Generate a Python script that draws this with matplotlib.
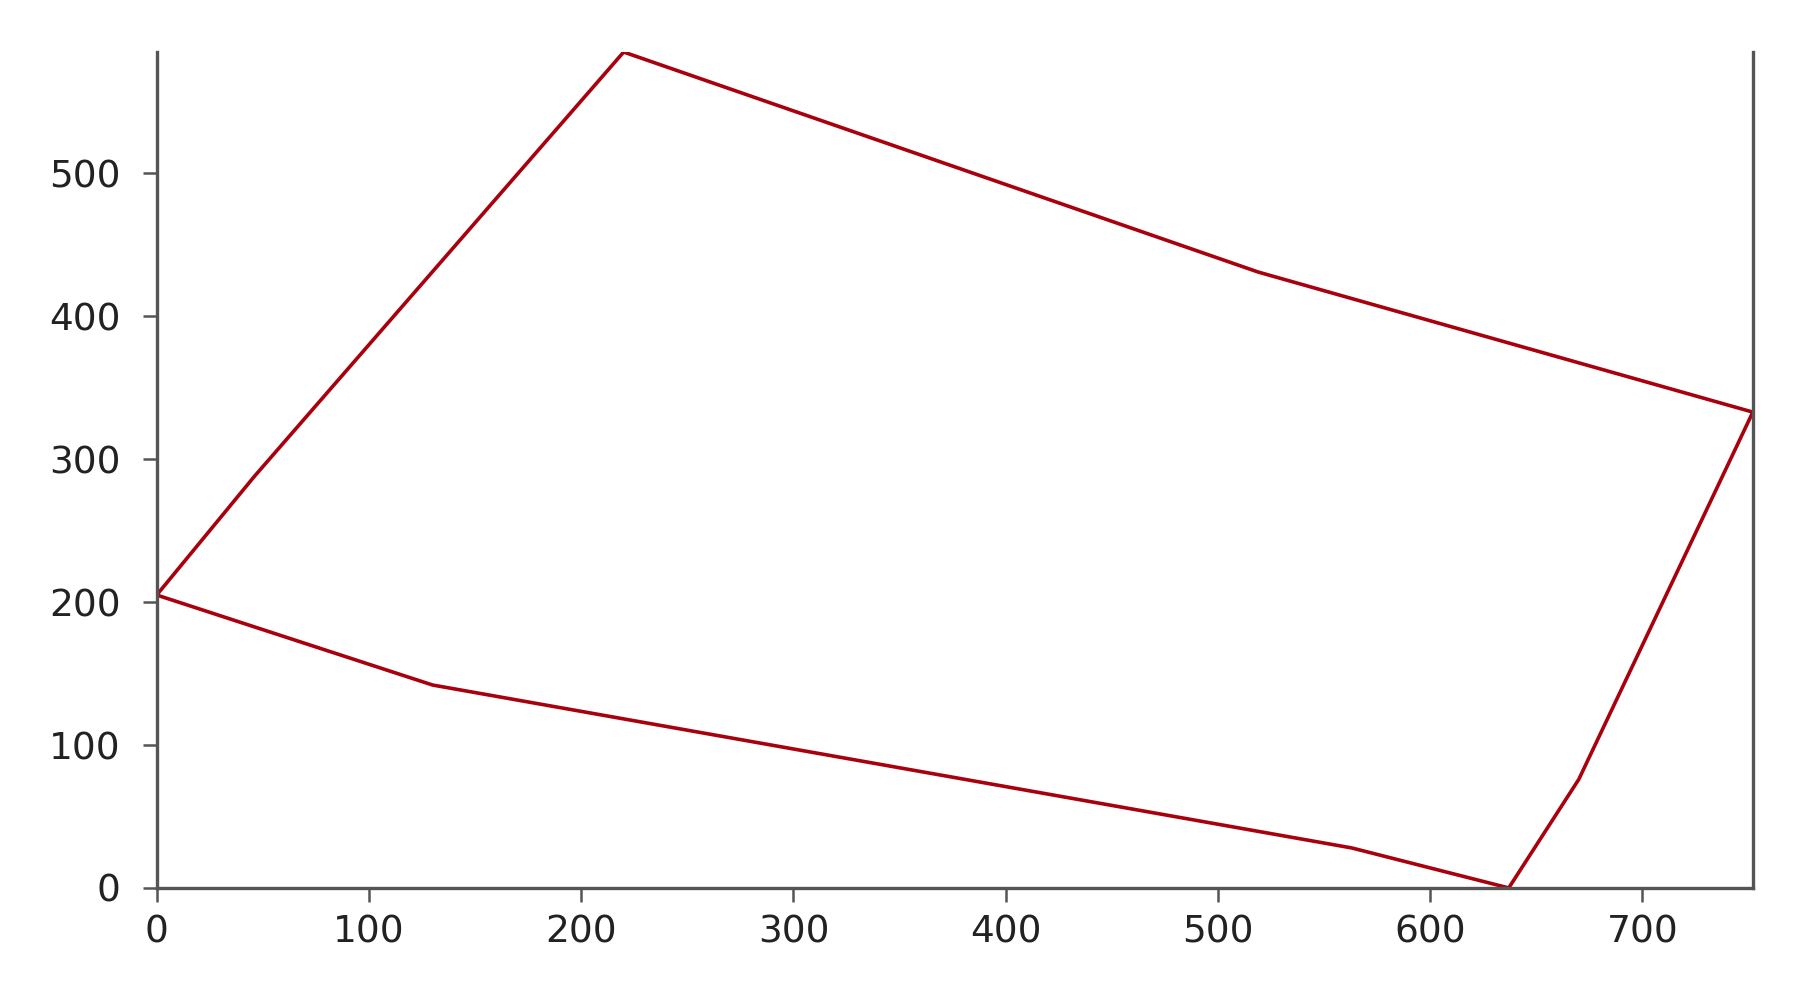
import matplotlib.pyplot as plt

# vertices of the closed outline (data units)
xs = [0, 46, 220, 519, 752, 670, 637, 563, 130, 0]
ys = [205, 288, 585, 431, 333, 76, 0, 28, 142, 205]

xticks = [0, 100, 200, 300, 400, 500, 600, 700]
yticks = [0, 100, 200, 300, 400, 500]

fig = plt.figure(figsize=(18.2, 9.91), dpi=100)
ax = fig.add_axes([0.0861, 0.104, 0.877, 0.8435])

ax.plot(xs, ys, color="#a8000c", linewidth=2.6)

ax.set_xlim(0, 752)
ax.set_ylim(0, 585)
ax.set_xticks(xticks)
ax.set_yticks(yticks)

ax.spines["top"].set_visible(False)
for side in ["left", "bottom", "right"]:
    ax.spines[side].set_color("#555555")
    ax.spines[side].set_linewidth(2.4)

ax.tick_params(colors="#555555", labelcolor="#222222", labelsize=27,
               length=10, width=1.8)
ax.tick_params(axis="y", pad=16)
ax.tick_params(axis="x", pad=9)

fig.savefig("out.png", dpi=100, facecolor="white")
